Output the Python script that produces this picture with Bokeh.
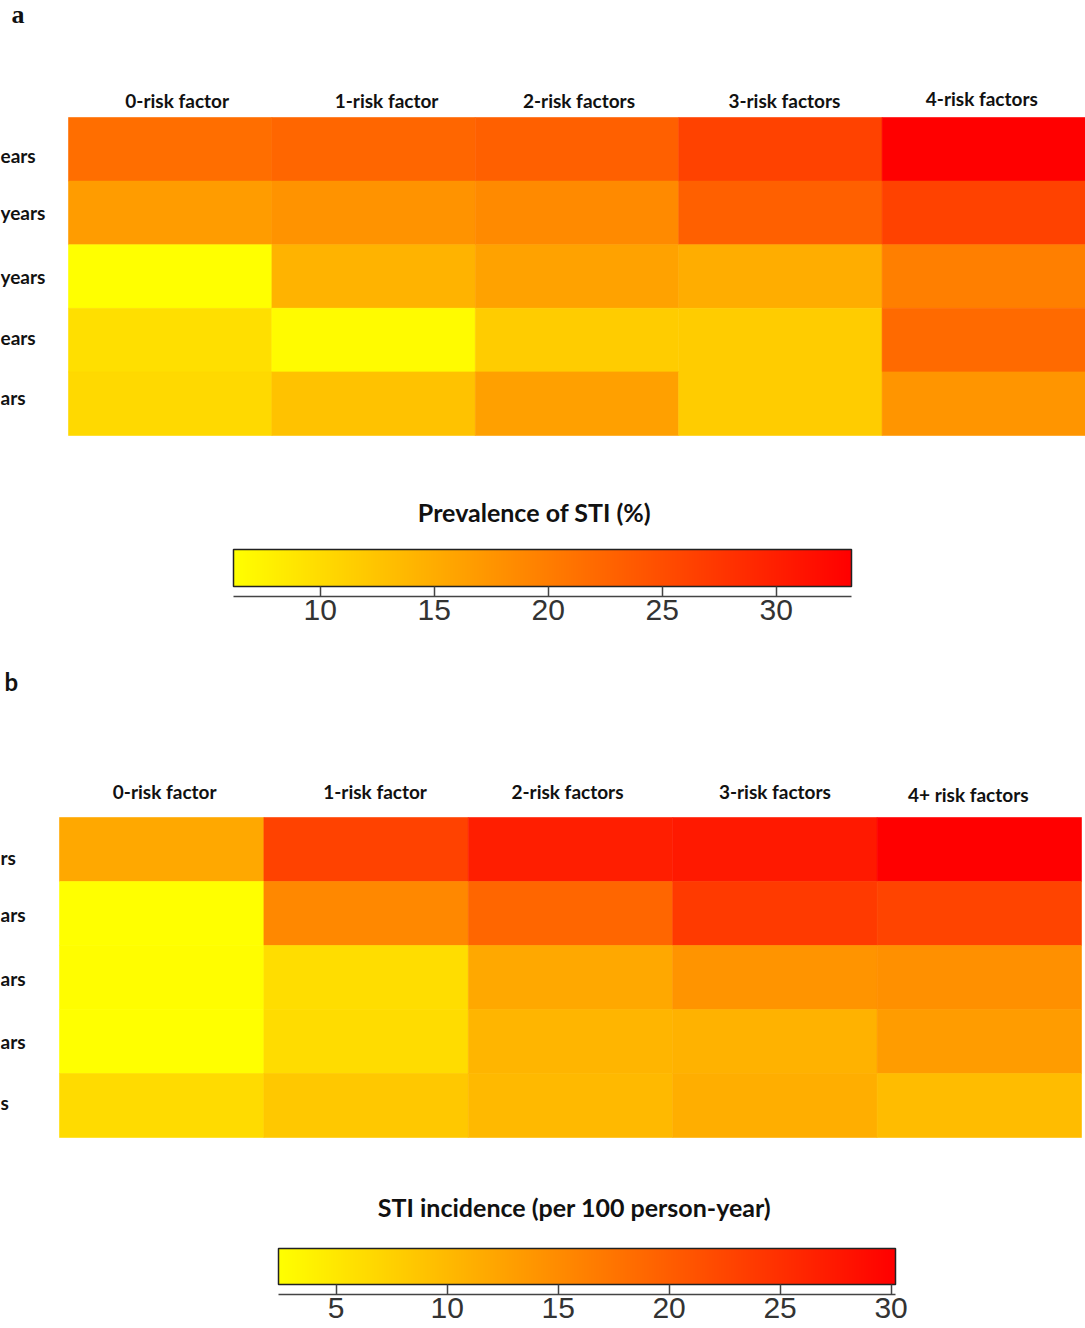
import numpy as np
from bokeh.plotting import figure
from bokeh.models import ColumnDataSource, LinearColorMapper, Range1d, FixedTicker
from bokeh.core.properties import value
from bokeh.layouts import column
from bokeh.embed import file_html
from bokeh.resources import INLINE

# ---------------- data ----------------
cols_a = ["0-risk factor", "1-risk factor", "2-risk factors", "3-risk factors", "4-risk factors"]
cols_b = ["0-risk factor", "1-risk factor", "2-risk factors", "3-risk factors", "4+ risk factors"]
rows_a = ["ears", "years", "years", "ears", "ars"]          # row labels (cropped in source)
rows_b = ["rs", "ars", "ars", "ars", "s"]

prevalence = [
    [21.6, 22.5, 23.1, 26.3, 33.3],
    [16.7, 17.7, 18.6, 23.1, 26.3],
    [6.2, 14.3, 16.1, 14.9, 19.8],
    [9.6, 6.7, 11.6, 11.6, 22.0],
    [10.3, 12.7, 16.3, 11.6, 17.5],
]
incidence = [
    [11.9, 23.0, 26.9, 27.4, 30.2],
    [2.4, 15.4, 19.1, 23.9, 22.8],
    [2.7, 6.1, 11.9, 14.1, 14.5],
    [2.4, 6.3, 10.5, 10.8, 13.2],
    [6.4, 8.4, 10.1, 11.2, 9.7],
]
prev_range = (6.2, 33.3)
inc_range = (2.4, 30.2)
prev_ticks = [10, 15, 20, 25, 30]
inc_ticks = [5, 10, 15, 20, 25, 30]
prev_title = "Prevalence of STI (%)"
inc_title = "STI incidence (per 100 person-year)"

# ---------------- style / layout ----------------
palette = ["#FF%02X00" % g for g in range(255, -1, -1)]   # yellow -> red
W = 1085
FONT = "Lato"
TXT = "#111111"
# small label nudges (screen px, +y is down) to follow the original placement
col_nudge_a = [(7, 0), (13, 0), (2, 0), (4, 0), (-2, -2)]
col_nudge_b = [(3, 0), (9, 0), (-3, 0), (0, 0), (-11, 3)]
row_nudge_a = [6, 0, 0, -3, -6]
row_nudge_b = [8, 1, 1, 0, -3]


def base_fig(height, x_range, y_range, bottom=0):
    p = figure(width=W, height=height, x_range=x_range, y_range=y_range,
               output_backend="svg", toolbar_location=None,
               min_border_left=0, min_border_right=0, min_border_top=0,
               min_border_bottom=bottom)
    p.grid.visible = False
    p.outline_line_color = None
    p.background_fill_color = None
    p.border_fill_color = None
    return p


def heat(cols, rows, vals, rng, height, px_left, px_right, px_top, px_bottom, lab_px,
         letter, letter_font, letter_size, letter_px, col_nudge, row_nudge):
    mapper = LinearColorMapper(palette=palette, low=rng[0], high=rng[1])
    nc, nr = len(cols), len(rows)
    cw = (px_right - px_left) / nc              # pixels per column
    rh = (px_bottom - px_top) / nr              # pixels per row
    xr = Range1d(-px_left / cw, nc + (W - px_right) / cw)
    yr = Range1d(-(height - px_bottom) / rh, nr + px_top / rh)
    p = base_fig(height, xr, yr)
    p.axis.visible = False

    xs, ys, vs = [], [], []
    for i, r in enumerate(vals):
        for j, v in enumerate(r):
            xs.append(j + 0.5)
            ys.append(nr - i - 0.5)
            vs.append(v)
    src = ColumnDataSource(dict(x=xs, y=ys, v=vs))
    p.rect(x="x", y="y", width=1, height=1, source=src,
           fill_color={"field": "v", "transform": mapper},
           line_color={"field": "v", "transform": mapper}, line_width=0.6)

    # column labels
    csrc = ColumnDataSource(dict(x=[j + 0.5 for j in range(nc)],
                                 y=[nr + (px_top - lab_px) / rh] * nc, text=cols,
                                 dx=[n[0] for n in col_nudge], dy=[n[1] for n in col_nudge]))
    p.text(x="x", y="y", text="text", x_offset="dx", y_offset="dy", source=csrc,
           text_align="center", text_baseline="middle", text_font=value(FONT),
           text_font_style="bold", text_font_size="19px", text_color=TXT)
    # row labels (cropped at the left edge)
    rsrc = ColumnDataSource(dict(x=[xr.start] * nr, y=[nr - i - 0.5 for i in range(nr)],
                                 text=rows, dy=row_nudge))
    p.text(x="x", y="y", text="text", y_offset="dy", source=rsrc,
           text_align="left", text_baseline="middle", text_font=value(FONT),
           text_font_style="bold", text_font_size="19px", text_color=TXT)
    # panel letter
    p.text(x=[xr.start + letter_px[0] / cw], y=[nr + (px_top - letter_px[1]) / rh], text=[letter],
           text_align="left", text_baseline="middle", text_font=value(letter_font),
           text_font_style="bold", text_font_size=letter_size, text_color="#111111")
    return p, mapper


def cbar(rng, ticks, mapper, title, height, bar_left, bar_right, bar_top, bar_bottom,
         axis_px, title_px):
    lo, hi = rng
    s = (bar_right - bar_left) / (hi - lo)       # pixels per unit
    bh = bar_bottom - bar_top                    # bar height in px
    xr = Range1d(lo - bar_left / s, hi + (W - bar_right) / s)
    yr = Range1d(-(axis_px - bar_bottom) / bh, 1 + bar_top / bh)
    p = base_fig(height, xr, yr, bottom=height - axis_px)
    p.yaxis.visible = False

    grad = np.linspace(lo, hi, 512)[None, :]
    p.image(image=[grad], x=lo, y=0, dw=hi - lo, dh=1, color_mapper=mapper)
    p.quad(left=[lo], right=[hi], bottom=[0], top=[1], fill_color=None,
           line_color="#222222", line_width=1.5)
    p.text(x=[xr.start + title_px[0] / s], y=[1 + (bar_top - title_px[1]) / bh], text=[title],
           text_align="center", text_baseline="middle", text_font=value(FONT),
           text_font_style="bold", text_font_size="25px", text_color=TXT)

    ax = p.xaxis[0]
    ax.ticker = FixedTicker(ticks=ticks)
    ax.bounds = (lo, hi)
    ax.major_tick_in = 10
    ax.major_tick_out = 0
    ax.minor_tick_line_color = None
    ax.axis_line_color = "#444444"
    ax.axis_line_width = 1.5
    ax.major_tick_line_color = "#444444"
    ax.major_tick_line_width = 1.5
    ax.major_label_standoff = 3
    ax.major_label_text_font = "Liberation Sans"
    ax.major_label_text_font_size = "30px"
    ax.major_label_text_color = "#333333"
    return p


# canvas coordinates (page pixels)
ha, map_a = heat(cols_a, rows_a, prevalence, prev_range, height=448, px_left=68, px_right=1085,
                 px_top=117, px_bottom=435, lab_px=100, letter="a",
                 letter_font="Liberation Serif", letter_size="26px", letter_px=(11, 14),
                 col_nudge=col_nudge_a, row_nudge=row_nudge_a)
ca = cbar(prev_range, prev_ticks, map_a, prev_title, height=215, bar_left=233, bar_right=851,
          bar_top=101, bar_bottom=138, axis_px=148, title_px=(534, 63))
hb, map_b = heat(cols_b, rows_b, incidence, inc_range, height=487, px_left=59, px_right=1081,
                 px_top=154, px_bottom=474, lab_px=128, letter="b",
                 letter_font=FONT, letter_size="24px", letter_px=(4, 18),
                 col_nudge=col_nudge_b, row_nudge=row_nudge_b)
cb = cbar(inc_range, inc_ticks, map_b, inc_title, height=178, bar_left=278, bar_right=895,
          bar_top=98, bar_bottom=134, axis_px=144, title_px=(574, 56))

layout = column(ha, ca, hb, cb, spacing=0)
open("out.html", "w").write(file_html(layout, INLINE))
